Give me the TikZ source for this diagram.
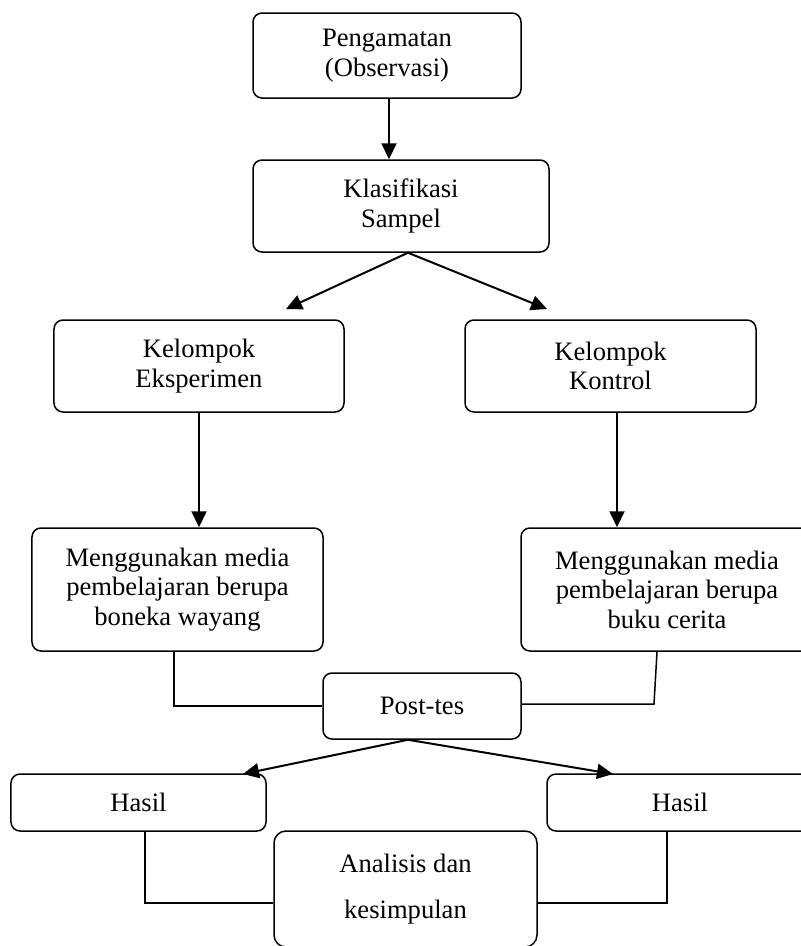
\documentclass[tikz,border=0pt]{standalone}
\usepackage{fontspec}
\setmainfont{Liberation Serif}
\usetikzlibrary{arrows.meta}
\begin{document}
\begin{tikzpicture}[x=1bp,y=-1bp,
  box/.style={draw,rounded corners=9bp,line width=1.5bp,align=center,inner sep=0pt,
    font=\fontsize{26.6bp}{29.5bp}\selectfont},
  arr/.style={line width=2bp,-{Triangle[width=15bp,length=16bp]}},
  conn/.style={line width=1.5bp}]
\useasboundingbox (0,0) rectangle (801,946);
\node[box,minimum width=268bp,minimum height=85bp] (peng) at (387,55.5) {Pengamatan\\(Observasi)};
\node[box,minimum width=296bp,minimum height=92bp] (klas) at (401,206) {Klasifikasi\\Sampel};
\node[box,minimum width=290bp,minimum height=92bp] (eks) at (199,366) {Kelompok\\Eksperimen};
\node[box,minimum width=291bp,minimum height=92bp] (kon) at (610.5,366) {Kelompok\\Kontrol};
\node[box,minimum width=291bp,minimum height=123bp] (medL) at (177.5,589.5) {Menggunakan media\\pembelajaran berupa\\boneka wayang};
\node[box,minimum width=292bp,minimum height=123bp] (medR) at (667,589.5) {Menggunakan media\\pembelajaran berupa\\buku cerita};
\node[box,minimum width=198bp,minimum height=66bp] (post) at (422,706) {Post-tes};
\node[box,minimum width=255bp,minimum height=57bp] (hasilL) at (138.5,802.5) {Hasil};
\node[box,minimum width=266bp,minimum height=57bp] (hasilR) at (680,802.5) {Hasil};
\node[box,rounded corners=12bp,minimum width=263bp,minimum height=116bp,
  font=\fontsize{26.6bp}{46bp}\selectfont] (anal) at (405.5,889) {Analisis dan\\kesimpulan};
% arrows
\draw[arr] ([xshift=2bp]peng.south) -- ([xshift=2bp]peng.south |- klas.north);
\coordinate (e1) at (286,309);
\coordinate (e2) at (547,309);
\draw[arr] ([xshift=7bp]klas.south) -- (e1);
\draw[arr] ([xshift=7bp]klas.south) -- (e2);
\draw[arr] (eks.south) -- (eks.south |- medL.north);
\draw[arr] ([xshift=6.5bp]kon.south) -- ([xshift=6.5bp]kon.south |- medR.north);
% post-tes connectors
\draw[conn] ([xshift=-3.5bp]medL.south) |- (post.west);
\coordinate (pr) at (654,704);
\draw[conn] ([yshift=2bp]post.east) -- (pr) -- ([xshift=-10bp]medR.south);
\coordinate (h1) at (243,774);
\coordinate (h2) at (613,774);
\draw[arr] ([xshift=-14bp]post.south) -- (h1);
\draw[arr] ([xshift=-14bp]post.south) -- (h2);
% hasil connectors
\draw[conn] ([xshift=6.5bp]hasilL.south) |- ([yshift=-14bp]anal.west);
\draw[conn] ([yshift=-14bp]anal.east) -| ([xshift=-13bp]hasilR.south);
\end{tikzpicture}
\end{document}
